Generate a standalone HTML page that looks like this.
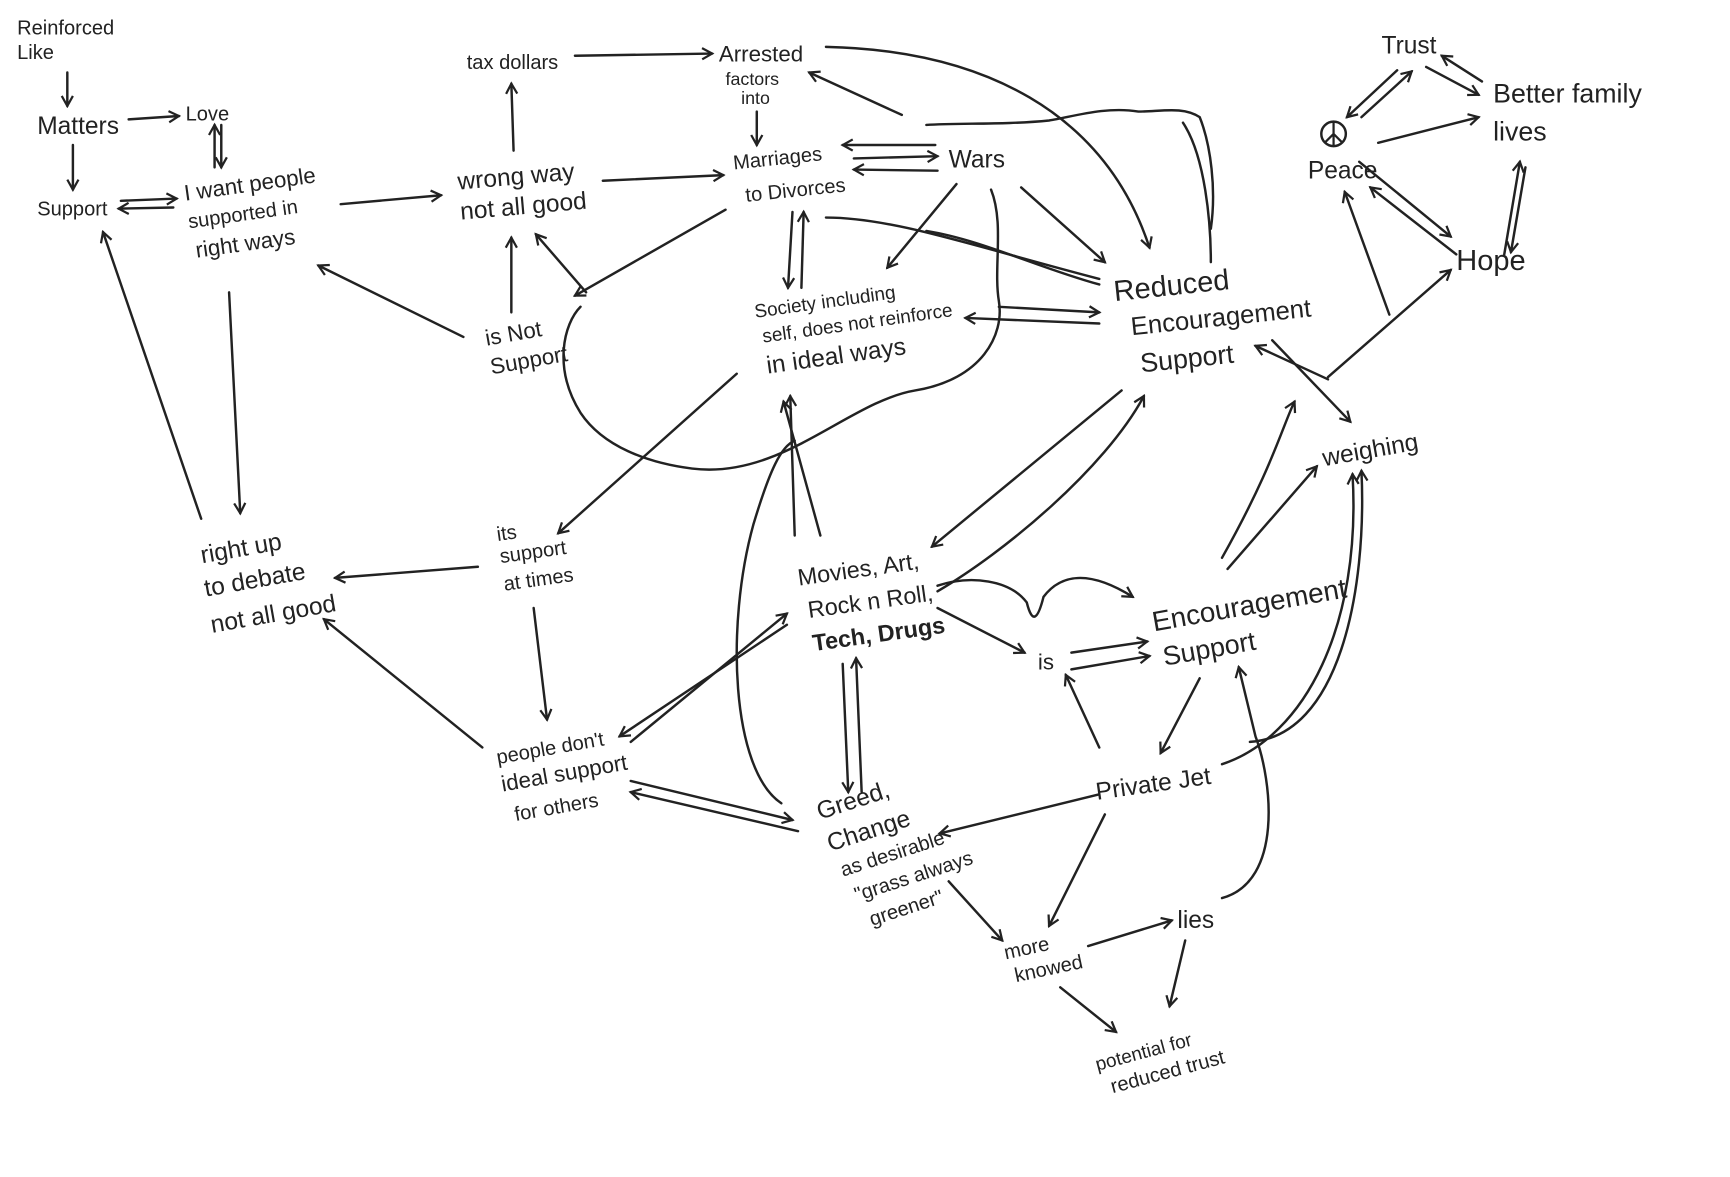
<!DOCTYPE html>
<html><head><meta charset="utf-8"><style>
html,body{margin:0;padding:0;background:#fff;}
svg{display:block}
text{font-family:"Liberation Sans",sans-serif;fill:#222;}
</style></head><body>
<svg width="1730" height="1177" viewBox="0 0 1550 1055" xmlns="http://www.w3.org/2000/svg">
<defs>
<marker id="a" markerWidth="12" markerHeight="12" refX="10" refY="6" orient="auto" markerUnits="userSpaceOnUse">
<path d="M1,1 L10,6 L1,11" fill="none" stroke="#222" stroke-width="2"/>
</marker>
</defs>
<g stroke="#222" stroke-width="2.2" fill="none" stroke-linecap="round" marker-end="url(#a)">
<line x1="60" y1="65" x2="60" y2="95"/>
<line x1="115" y1="107" x2="160" y2="104"/>
<line x1="65" y1="130" x2="65" y2="170"/>
<line x1="108" y1="180" x2="158" y2="178"/>
<line x1="155" y1="186" x2="106" y2="187"/>
<line x1="192" y1="150" x2="192" y2="112"/>
<line x1="198" y1="112" x2="198" y2="150"/>
<line x1="305" y1="183" x2="395" y2="175"/>
<line x1="205" y1="262" x2="215" y2="460"/>
<line x1="180" y1="465" x2="92" y2="208"/>
<line x1="415" y1="302" x2="285" y2="238"/>
<line x1="460" y1="135" x2="458" y2="75"/>
<line x1="515" y1="50" x2="638" y2="48"/>
<line x1="458" y1="280" x2="458" y2="213"/>
<line x1="525" y1="262" x2="480" y2="210"/>
<line x1="540" y1="162" x2="648" y2="157"/>
<line x1="678" y1="100" x2="678" y2="130"/>
<line x1="808" y1="103" x2="725" y2="65"/>
<line x1="838" y1="130" x2="755" y2="130"/>
<line x1="765" y1="142" x2="840" y2="140"/>
<line x1="840" y1="153" x2="765" y2="152"/>
<line x1="650" y1="188" x2="515" y2="265"/>
<line x1="710" y1="190" x2="706" y2="258"/>
<line x1="718" y1="258" x2="720" y2="190"/>
<line x1="857" y1="165" x2="795" y2="240"/>
<line x1="915" y1="168" x2="990" y2="235"/>
<line x1="895" y1="275" x2="985" y2="280"/>
<line x1="985" y1="290" x2="865" y2="285"/>
<line x1="660" y1="335" x2="500" y2="478"/>
<line x1="428" y1="508" x2="300" y2="518"/>
<line x1="478" y1="545" x2="490" y2="645"/>
<line x1="432" y1="670" x2="290" y2="555"/>
<line x1="735" y1="480" x2="702" y2="360"/>
<line x1="712" y1="480" x2="708" y2="355"/>
<line x1="1005" y1="350" x2="835" y2="490"/>
<line x1="565" y1="665" x2="705" y2="550"/>
<line x1="705" y1="560" x2="555" y2="660"/>
<line x1="565" y1="700" x2="710" y2="735"/>
<line x1="715" y1="745" x2="565" y2="710"/>
<line x1="755" y1="595" x2="760" y2="710"/>
<line x1="772" y1="710" x2="767" y2="590"/>
<line x1="840" y1="545" x2="918" y2="585"/>
<line x1="960" y1="585" x2="1028" y2="575"/>
<line x1="960" y1="600" x2="1030" y2="588"/>
<line x1="1075" y1="608" x2="1040" y2="675"/>
<line x1="985" y1="712" x2="842" y2="747"/>
<line x1="990" y1="730" x2="940" y2="830"/>
<line x1="850" y1="790" x2="898" y2="843"/>
<line x1="975" y1="848" x2="1050" y2="825"/>
<line x1="1062" y1="843" x2="1048" y2="902"/>
<line x1="950" y1="885" x2="1000" y2="925"/>
<line x1="1100" y1="510" x2="1180" y2="418"/>
<line x1="1190" y1="340" x2="1125" y2="310"/>
<line x1="1140" y1="305" x2="1210" y2="378"/>
<line x1="1190" y1="338" x2="1300" y2="242"/>
<line x1="1245" y1="282" x2="1205" y2="172"/>
<line x1="1235" y1="128" x2="1325" y2="105"/>
<line x1="1218" y1="145" x2="1300" y2="212"/>
<line x1="1305" y1="228" x2="1228" y2="168"/>
<line x1="1220" y1="105" x2="1265" y2="64"/>
<line x1="1252" y1="63" x2="1207" y2="105"/>
<line x1="1278" y1="60" x2="1325" y2="85"/>
<line x1="1328" y1="73" x2="1292" y2="50"/>
<line x1="1348" y1="228" x2="1362" y2="145"/>
<line x1="1367" y1="150" x2="1354" y2="226"/>
<path d="M740,42 C880,45 990,100 1030,222"/>
<path d="M1095,500 C1140,420 1150,380 1160,360"/>
<path d="M1120,665 C1200,660 1225,530 1220,422"/>
<path d="M1095,685 C1170,660 1220,560 1212,425"/>
<path d="M1095,805 C1150,790 1140,700 1125,660 L1110,598"/>
<path d="M985,670 L955,605"/>
<path d="M840,525 C870,515 905,520 920,540 C925,560 930,555 935,535 C950,515 975,510 1015,535"/>
<path d="M840,530 C900,495 990,420 1025,355"/>
</g>
<g stroke="#222" stroke-width="2.2" fill="none" stroke-linecap="round">
<path d="M740,195 C800,195 870,220 985,250"/>
<path d="M830,207 C880,215 930,240 985,255"/>
<path d="M520,275 C505,290 495,330 520,370 C540,400 580,415 620,420 C700,430 760,360 820,350 C880,340 900,300 895,270 C890,240 900,200 888,170"/>
<path d="M700,720 C655,690 650,560 675,470 C690,420 700,400 712,395"/>
<path d="M1085,205 C1090,170 1085,130 1075,105 C1060,95 1040,100 1020,100 C990,95 960,105 940,108 C900,112 860,110 830,112"/>
<path d="M1085,235 C1085,200 1080,140 1060,110"/>
</g>
<g font-size="18">
<text x="15" y="31">Reinforced</text>
<text x="15" y="53">Like</text>
<text x="33" y="120" font-size="22">Matters</text>
<text x="166" y="108">Love</text>
<text x="33" y="193">Support</text>
<g transform="rotate(-8 165 175)"><text x="165" y="180" font-size="20">I want people</text><text x="165" y="205">supported in</text><text x="168" y="232" font-size="20">right ways</text></g>
<text x="418" y="62">tax dollars</text>
<g transform="rotate(-5 410 165)"><text x="410" y="170" font-size="22">wrong way</text><text x="410" y="197" font-size="22">not all good</text></g>
<text x="644" y="55" font-size="20">Arrested</text>
<text x="650" y="76" font-size="16">factors</text>
<text x="664" y="93" font-size="16">into</text>
<g transform="rotate(-6 657 148)"><text x="657" y="152">Marriages</text><text x="665" y="182">to Divorces</text></g>
<text x="850" y="150" font-size="22">Wars</text>
<g transform="rotate(-8 676 280)"><text x="676" y="285" font-size="17">Society including</text><text x="680" y="308" font-size="17">self, does not reinforce</text><text x="680" y="336" font-size="22">in ideal ways</text></g>
<g transform="rotate(-6 998 262)"><text x="998" y="270" font-size="26">Reduced</text><text x="1010" y="302" font-size="23">Encouragement</text><text x="1015" y="336" font-size="24">Support</text></g>
<g transform="rotate(-10 435 305)"><text x="435" y="310" font-size="20">is Not</text><text x="435" y="336" font-size="20">Support</text></g>
<text x="1238" y="48" font-size="22">Trust</text>
<circle cx="1195" cy="120" r="11" fill="none" stroke="#222" stroke-width="2.2"/>
<path d="M1195,109 V131 M1195,120 L1187,128 M1195,120 L1203,128" stroke="#222" stroke-width="2" fill="none"/>
<text x="1172" y="160" font-size="22">Peace</text>
<text x="1338" y="92" font-size="24">Better  family</text>
<text x="1338" y="126" font-size="24">lives</text>
<text x="1305" y="242" font-size="26">Hope</text>
<text x="1185" y="418" font-size="22" transform="rotate(-10 1185 410)">weighing</text>
<g transform="rotate(-8 445 480)"><text x="445" y="485">its</text><text x="445" y="505">support</text><text x="445" y="530">at times</text></g>
<g transform="rotate(-10 180 500)"><text x="180" y="505" font-size="22">right up</text><text x="178" y="535" font-size="22">to debate</text><text x="178" y="568" font-size="22">not all good</text></g>
<g transform="rotate(-8 715 520)"><text x="715" y="525" font-size="21">Movies, Art,</text><text x="720" y="555" font-size="21">Rock n Roll,</text><text x="720" y="585" font-size="21" font-weight="bold">Tech, Drugs</text></g>
<g transform="rotate(-10 1033 560)"><text x="1033" y="566" font-size="25">Encouragement</text><text x="1037" y="598" font-size="24">Support</text></g>
<text x="930" y="600" font-size="20">is</text>
<text x="982" y="717" font-size="22" transform="rotate(-8 982 710)">Private Jet</text>
<g transform="rotate(-10 445 680)"><text x="445" y="685">people don't</text><text x="445" y="710" font-size="20">ideal support</text><text x="452" y="738">for others</text></g>
<g transform="rotate(-18 733 730)"><text x="733" y="735" font-size="22">Greed,</text><text x="733" y="765" font-size="22">Change</text><text x="737" y="790">as desirable</text><text x="742" y="815">"grass always</text><text x="748" y="840">greener"</text></g>
<g transform="rotate(-12 900 855)"><text x="900" y="860">more</text><text x="905" y="882">knowed</text></g>
<text x="1055" y="832" font-size="22">lies</text>
<g transform="rotate(-15 982 955)"><text x="982" y="960" font-size="17">potential for</text><text x="990" y="983">reduced trust</text></g>
</g>
</svg>
</body></html>
